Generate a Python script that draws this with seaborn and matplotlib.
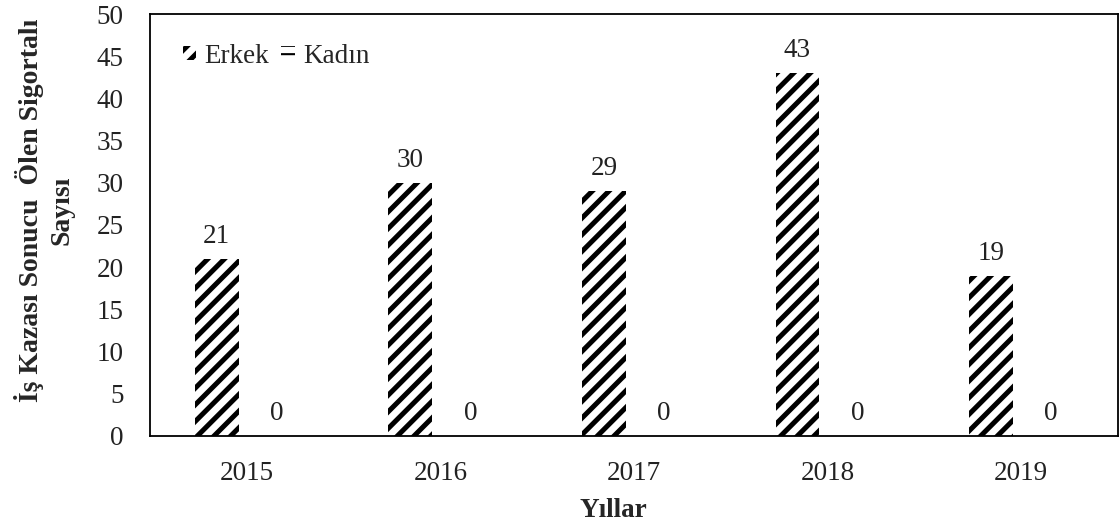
import matplotlib
matplotlib.use("Agg")
import matplotlib.pyplot as plt
import seaborn as sns
import pandas as pd
from matplotlib.patches import Patch

years = ["2015", "2016", "2017", "2018", "2019"]
erkek = [21, 30, 29, 43, 19]
kadin = [0, 0, 0, 0, 0]
series = ["Erkek", "Kadın"]

df = pd.DataFrame({
    "Yıl": years * 2,
    "Sayı": erkek + kadin,
    "Cinsiyet": [series[0]] * len(years) + [series[1]] * len(years),
})

sns.set_theme(style="white")
plt.rcParams["font.family"] = ["Liberation Serif", "DejaVu Serif"]
plt.rcParams["hatch.linewidth"] = 3.6
plt.rcParams["hatch.color"] = "black"

FS = 19.5
fig = plt.figure(figsize=(11.19, 5.29), dpi=100)
ax = fig.add_axes([0.134, 0.176, 0.865, 0.7975])

sns.barplot(data=df, x="Yıl", y="Sayı", hue="Cinsiyet", order=years,
            hue_order=series, palette=["white", "white"], width=0.62,
            edgecolor="black", linewidth=0, ax=ax, legend=False)

hatches = {"Erkek": "//", "Kadın": "--"}
bw = 0.227
for cont, name in zip(ax.containers, series):
    for p in cont.patches:
        c = p.get_x() + p.get_width() / 2
        p.set_width(bw)
        p.set_x(c - bw / 2)
        p.set_hatch(hatches[name])
        p.set_edgecolor("black")
        p.set_linewidth(0)
    ax.bar_label(cont, labels=[f"{v:.0f}" for v in cont.datavalues],
                 padding=7, fontsize=FS, color="#222222")

handles = [Patch(facecolor="white", edgecolor="black", linewidth=0, hatch=hatches[s]) for s in series]
leg = ax.legend(handles, series, loc="upper left", bbox_to_anchor=(0.034, 0.93),
                borderaxespad=0, borderpad=0, frameon=False, ncol=2, fontsize=FS,
                handlelength=0.5, handleheight=0.45, handletextpad=0.3,
                columnspacing=0.45)
try:
    leg.legend_handles[1].set_hatch_linewidth(1.5)
except Exception:
    pass

ax.set_ylim(0, 50)
ax.set_yticks(range(0, 51, 5))
ax.tick_params(axis="y", labelsize=FS, colors="#222222", length=0, pad=19)
ax.tick_params(axis="x", labelsize=FS, colors="#222222", length=0, pad=18)
ax.set_xlabel("Yıllar", fontsize=FS, fontweight="bold")
ax.set_ylabel("İş Kazası Sonucu  Ölen Sigortalı\nSayısı", fontsize=20,
              fontweight="bold", linespacing=1.3)
ax.xaxis.set_label_coords(0.479, -0.148)
ax.yaxis.set_label_coords(-0.078, 0.535)
for s in ax.spines.values():
    s.set_visible(True)
    s.set_color("black")
    s.set_linewidth(1.3)

fig.savefig("out.png", dpi=100)
